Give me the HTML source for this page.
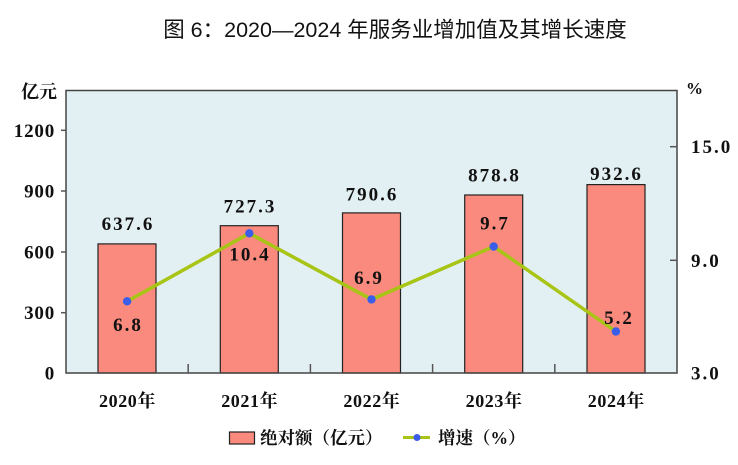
<!DOCTYPE html>
<html><head><meta charset="utf-8"><style>
html,body{margin:0;padding:0;background:#fff;}
svg{display:block;}
.t{font-family:"Liberation Sans","Noto Sans CJK SC",sans-serif;}
.n{font-family:"Liberation Serif","Noto Serif CJK SC",serif;font-weight:bold;fill:#111;}
</style></head><body>
<svg width="738" height="465" viewBox="0 0 738 465" xmlns="http://www.w3.org/2000/svg">
<text class="t" x="395" y="37" font-size="21.5" text-anchor="middle" fill="#111">图 6：2020—2024 年服务业增加值及其增长速度</text>
<!-- plot area -->
<rect x="66" y="90.5" width="611" height="282.5" fill="#e3f0f3"/>
<!-- bars -->
<g fill="#fa8a7d" stroke="#222" stroke-width="1.2">
<rect x="98" y="243.9" width="58" height="129.1"/>
<rect x="220.3" y="225.7" width="58" height="147.3"/>
<rect x="342.5" y="212.9" width="58" height="160.1"/>
<rect x="464.7" y="195.0" width="58" height="178.0"/>
<rect x="587" y="184.6" width="58" height="188.4"/>
</g>
<!-- border -->
<rect x="66" y="90.5" width="611" height="282.5" fill="none" stroke="#444" stroke-width="1.5"/>
<!-- ticks -->
<g stroke="#555" stroke-width="1.5">
<line x1="61" y1="130.3" x2="66" y2="130.3"/>
<line x1="61" y1="191" x2="66" y2="191"/>
<line x1="61" y1="252" x2="66" y2="252"/>
<line x1="61" y1="312.7" x2="66" y2="312.7"/>
<line x1="670" y1="146.7" x2="677" y2="146.7"/>
<line x1="670" y1="260.3" x2="677" y2="260.3"/>
<line x1="188.2" y1="364" x2="188.2" y2="373"/>
<line x1="310.4" y1="364" x2="310.4" y2="373"/>
<line x1="432.6" y1="364" x2="432.6" y2="373"/>
<line x1="554.8" y1="364" x2="554.8" y2="373"/>
</g>
<!-- line -->
<polyline points="127.1,301.3 249.3,233.3 371.5,299.4 493.7,246.5 615.9,331.5" fill="none" stroke="#a8c414" stroke-width="3.5" stroke-linejoin="round"/>
<g fill="#3b5ee8">
<circle cx="127.1" cy="301.3" r="4.2"/>
<circle cx="249.3" cy="233.3" r="4.2"/>
<circle cx="371.5" cy="299.4" r="4.2"/>
<circle cx="493.7" cy="246.5" r="4.2"/>
<circle cx="615.9" cy="331.5" r="4.2"/>
</g>
<!-- bar value labels -->
<g class="n" font-size="19" text-anchor="middle" letter-spacing="2">
<text x="128" y="230">637.6</text>
<text x="250" y="212.7">727.3</text>
<text x="372" y="200.7">790.6</text>
<text x="494.5" y="181.7">878.8</text>
<text x="616.5" y="180">932.6</text>
</g>
<!-- line labels -->
<g class="n" font-size="19" text-anchor="middle" letter-spacing="2">
<text x="128" y="331">6.8</text>
<text x="250" y="260.7">10.4</text>
<text x="369" y="284">6.9</text>
<text x="495" y="229.3">9.7</text>
<text x="619" y="324">5.2</text>
</g>
<!-- left axis labels -->
<g class="n" font-size="19" text-anchor="end" letter-spacing="0.8">
<text x="55" y="137">1200</text>
<text x="55" y="197.5">900</text>
<text x="55" y="258.5">600</text>
<text x="55" y="319">300</text>
<text x="55" y="379.5">0</text>
</g>
<text class="n" x="21" y="98" font-size="18">亿元</text>
<!-- right axis labels -->
<g class="n" font-size="19" letter-spacing="2">
<text x="691" y="153.2">15.0</text>
<text x="691" y="266.8">9.0</text>
<text x="691" y="379.5">3.0</text>
</g>
<text class="n" x="686" y="94" font-size="17">%</text>
<!-- category labels -->
<g class="n" font-size="18" text-anchor="middle" letter-spacing="0.6">
<text x="127.5" y="407">2020年</text>
<text x="249.7" y="407">2021年</text>
<text x="371.9" y="407">2022年</text>
<text x="494.1" y="407">2023年</text>
<text x="616.3" y="407">2024年</text>
</g>
<!-- legend -->
<rect x="229.5" y="432" width="25" height="12" fill="#fa8a7d" stroke="#222" stroke-width="1.2"/>
<text class="n" x="260" y="444" font-size="17.5">绝对额（亿元）</text>
<line x1="403" y1="437.5" x2="430" y2="437.5" stroke="#a8c414" stroke-width="3"/>
<circle cx="417" cy="437.5" r="3.5" fill="#3b5ee8"/>
<text class="n" x="438" y="444" font-size="17.5">增速（%）</text>
</svg>
</body></html>
